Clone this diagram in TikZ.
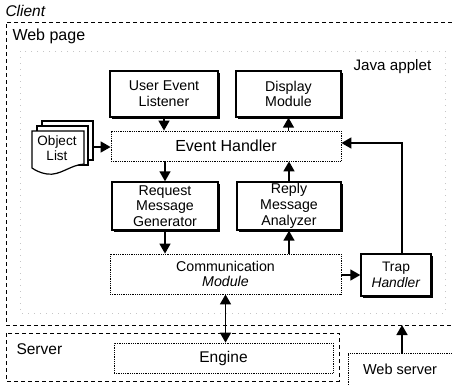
\documentclass[tikz,border=0pt]{standalone}
\usepackage{fontspec}
\setmainfont{Liberation Sans}
\usetikzlibrary{arrows.meta,shadows}
\begin{document}
\begin{tikzpicture}[x=1pt,y=-1pt,
  font=\fontsize{14.2}{15.8}\selectfont,
  sbox/.style={draw, line width=1.4pt, fill=white, align=center, inner sep=0pt,
    general shadow={fill=black, shadow xshift=2.2pt, shadow yshift=-2.2pt}},
  dbox/.style={draw, densely dotted, line width=0.8pt, align=center, inner sep=0pt},
  arr/.style={line width=1.6pt, -{Triangle[length=10pt,width=11pt]}},
  darr/.style={line width=1.6pt, {Triangle[length=10pt,width=11pt]}-{Triangle[length=10pt,width=11pt]}},
  region/.style={line width=0.9pt, dash pattern=on 4pt off 3pt},
  page/.style={fill=white, draw, line width=1.2pt},
  big/.style={font=\fontsize{15.5}{17}\selectfont}
]
\useasboundingbox (0,0) rectangle (452,384);

% client, applet and server frames
\draw[region] (452,22) -- (6,22) -- (6,325) -- (452,325);
\draw[gray!45, line width=0.5pt, dash pattern=on 1pt off 5pt] (20,51) rectangle (445,313);
\draw[region] (6,333) rectangle (339,381);
\node[anchor=west, font=\fontsize{15.5}{17}\selectfont\itshape] (client) at (2,11) {Client};
\node[anchor=west, font=\fontsize{16}{17}\selectfont] (web) at (9,36) {Web page};
\node[anchor=west, font=\fontsize{15.2}{17}\selectfont] (applet) at (350,67) {Java applet};
\node[anchor=west, big] (server) at (13,349) {Server};

% modules of the applet
\node[sbox, minimum width=108pt, minimum height=46pt] (uel) at (164,94) {User Event\\Listener};
\node[sbox, minimum width=105pt, minimum height=46pt] (dm) at (288.5,94) {Display\\Module};
\node[dbox, minimum width=230pt, minimum height=30pt, font=\fontsize{16}{17}\selectfont] (eh) at (226,146) {Event Handler};
\node[sbox, minimum width=106pt, minimum height=48pt] (rmg) at (165,206) {Request\\Message\\Generator};
\node[sbox, minimum width=104pt, minimum height=48pt] (rma) at (289,206) {Reply\\Message\\Analyzer};
\node[dbox, minimum width=231pt, minimum height=40pt] (cm) at (225.5,274) {Communication\\\textit{Module}};
\node[sbox, minimum width=70pt, minimum height=42pt, font=\fontsize{13.8}{15.8}\selectfont] (th) at (396,275) {Trap\\\textit{Handler}};

% stacked object list documents
\draw[page] (42,121) rectangle (93,160);
\draw[page] (37,126) rectangle (88,165);
\draw[page] (32,131) -- (84,131) -- (84,164)
  .. controls (70,165) and (60,176) .. (47,174)
  .. controls (40,173) and (35,170) .. (32,168) -- cycle;
\node[align=center, font=\fontsize{13.5}{15.5}\selectfont] (ol) at (57,148) {Object\\List};
\coordinate (olr) at (93,147);

% server side
\node[draw, densely dotted, line width=0.8pt, minimum width=219pt, minimum height=30pt, inner sep=0pt, big] (engine) at (223.5,358) {Engine};
\node[draw, densely dotted, line width=0.8pt, minimum width=112pt, minimum height=40pt, inner sep=0pt] (ws) at (404,373) {};
\node[font=\fontsize{14.5}{16}\selectfont] (wst) at (400,369) {Web server};
\coordinate (cb) at (402,325);

% connectors
\draw[arr] (olr) -- (olr -| eh.west);
\draw[arr] (uel.south) -- (uel.south |- eh.north);
\draw[arr] (dm.south |- eh.north) -- (dm.south);
\draw[arr] (rmg.north |- eh.south) -- (rmg.north);
\draw[arr] (rmg.south) -- (rmg.south |- cm.north);
\draw[arr] (rma.north) -- (rma.north |- eh.south);
\draw[arr] (rma.south |- cm.north) -- (rma.south);
\draw[arr] (cm.east |- th.west) -- (th.west);
\draw[arr] ([xshift=6pt]th.north) |- ([yshift=3pt]eh.east);
\draw[darr] (cm.south) -- (cm.south |- engine.north);
\draw[arr] ([xshift=-2pt]ws.north) -- (cb);
\end{tikzpicture}
\end{document}
